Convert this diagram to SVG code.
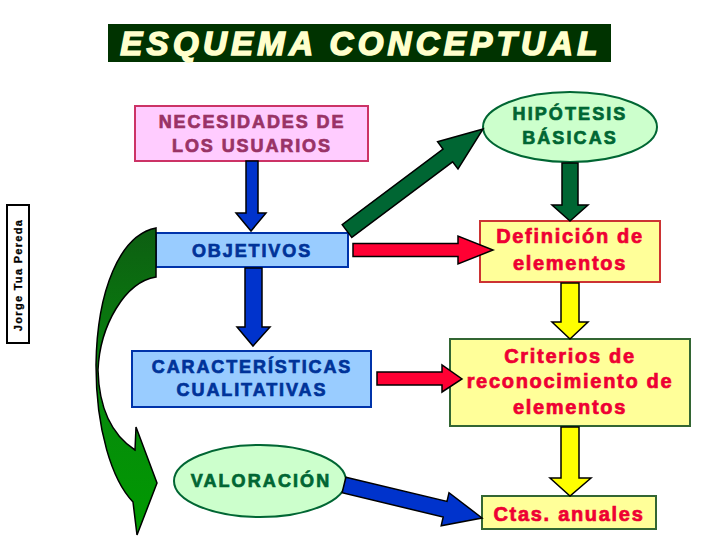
<svg xmlns="http://www.w3.org/2000/svg" width="720" height="540" viewBox="0 0 720 540">
<defs>
<linearGradient id="gcurve" x1="0" y1="0" x2="0" y2="1">
<stop offset="0" stop-color="#0d5e12"/>
<stop offset="0.55" stop-color="#078a0c"/>
<stop offset="1" stop-color="#009a00"/>
</linearGradient>
<style>
.t{font-family:"Liberation Sans",Arial,sans-serif;font-weight:bold;text-anchor:middle;stroke-width:0.7px;}
.blue{fill:#003399;stroke:#003399;font-size:18px;letter-spacing:1.9px;}
.pink{fill:#993366;stroke:#993366;font-size:18px;letter-spacing:1.9px;}
.grn{fill:#006633;stroke:#006633;font-size:18px;letter-spacing:2.1px;}
.red{fill:#ee0033;stroke:#ee0033;font-size:20px;letter-spacing:1.7px;}
.arr{stroke:#000;stroke-width:1.5;stroke-linejoin:miter;}
</style>
</defs>
<rect width="720" height="540" fill="#ffffff"/>

<g id="title">
<rect x="108" y="24" width="503" height="38" fill="#003300"/>
<text x="361" y="55" class="t" style="font-size:33px;font-style:italic;letter-spacing:4.3px;fill:#ffffcc;stroke:#ffffcc;stroke-width:1.6px">ESQUEMA CONCEPTUAL</text>
</g>

<g id="author">
<rect x="7" y="205" width="22" height="138" fill="#ffffff" stroke="#000" stroke-width="2"/>
<text transform="translate(22 275) rotate(-90)" class="t" style="font-size:11px;letter-spacing:1.3px;fill:#000;stroke:#000;stroke-width:0.3px">Jorge Tua Pereda</text>
</g>

<g id="necesidades">
<rect x="135" y="106" width="233" height="55" fill="#ffccff" stroke="#cc3366" stroke-width="2"/>
<text x="252" y="128" class="t pink">NECESIDADES DE</text>
<text x="252" y="152" class="t pink">LOS USUARIOS</text>
</g>

<g id="hipotesis">
<ellipse cx="570" cy="127" rx="87" ry="35" fill="#ccffcc" stroke="#006633" stroke-width="2"/>
<text x="570" y="120" class="t grn">HIPÓTESIS</text>
<text x="570" y="144" class="t grn">BÁSICAS</text>
</g>

<g id="objetivos">
<rect x="156" y="233" width="192" height="34" fill="#99ccff" stroke="#0033aa" stroke-width="2"/>
<text x="252" y="257" class="t blue">OBJETIVOS</text>
</g>

<g id="definicion">
<rect x="480" y="221" width="180" height="61" fill="#ffff99" stroke="#cc3333" stroke-width="2"/>
<text x="570" y="243" class="t red">Definición de</text>
<text x="570" y="270" class="t red">elementos</text>
</g>

<g id="caracteristicas">
<rect x="132" y="351" width="239" height="56" fill="#99ccff" stroke="#0033aa" stroke-width="2"/>
<text x="252" y="373" class="t blue">CARACTERÍSTICAS</text>
<text x="252" y="396" class="t blue">CUALITATIVAS</text>
</g>

<g id="criterios">
<rect x="450" y="339" width="240" height="87" fill="#ffff99" stroke="#336633" stroke-width="2"/>
<text x="570" y="363" class="t red">Criterios de</text>
<text x="570" y="388" class="t red">reconocimiento de</text>
<text x="570" y="414" class="t red">elementos</text>
</g>

<g id="valoracion">
<ellipse cx="260" cy="481" rx="86" ry="36" fill="#ccffcc" stroke="#006633" stroke-width="2"/>
<text x="261" y="487" class="t grn">VALORACIÓN</text>
</g>

<g id="ctas">
<rect x="482" y="496" width="174" height="33" fill="#ffff99" stroke="#336633" stroke-width="2"/>
<text x="569" y="521" class="t red">Ctas. anuales</text>
</g>

<g id="connectors">
<path class="arr" fill="url(#gcurve)" d="M156,228 C120,235 97,290 96,365 C96,430 112,480 133,502 L137,535 L157,483 L136,427 L135,450 C112,435 99,410 98,370 C100,325 125,282 156,277 Z"/>
<polygon class="arr" fill="#0033cc" points="246,161 258,161 258,213 266,213 251,231 236,213 246,213"/>
<polygon class="arr" fill="#0033cc" points="245,268 262,268 262,327 270,327 253,346 237,327 245,327"/>
<polygon class="arr" fill="#006633" points="351.8,237.4 452.6,161.8 458,169 483,129 437.6,141.8 443,149 342.2,224.6"/>
<polygon class="arr" fill="#006633" points="562,163 578,163 578,205 588,205 570,221 552,205 562,205"/>
<polygon class="arr" fill="#ff0033" points="353,243.5 458,243.5 458,236 493,250 458,264 458,256.5 353,256.5"/>
<polygon class="arr" fill="#ff0033" points="377,372 442,372 442,365 462,379 442,392 442,385 377,385"/>
<polygon class="arr" fill="#ffff00" points="561,283 579,283 579,322 588,322 570,339 552,322 561,322"/>
<polygon class="arr" fill="#ffff00" points="561,427 579,427 579,478 591,478 570,496 550,478 561,478"/>
<polygon class="arr" fill="#0033cc" points="345.9,477.2 447,501.4 449,492.7 482,518 441.2,525.7 443.2,517 342.1,492.8"/>
</g>
</svg>
